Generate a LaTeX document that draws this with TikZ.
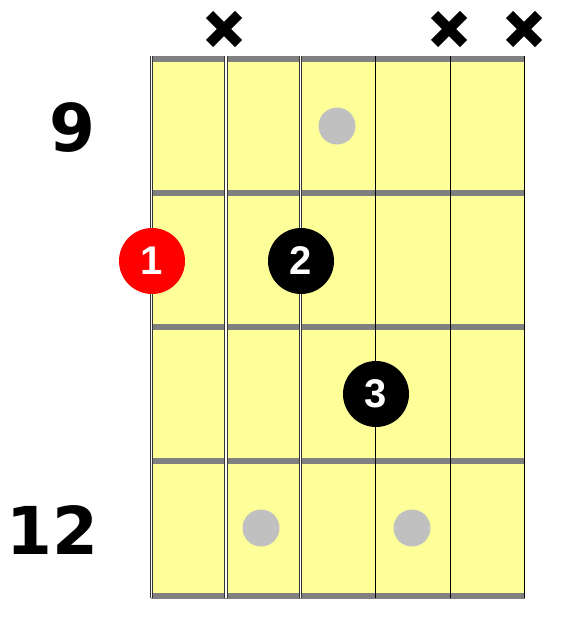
\documentclass[tikz,border=0pt]{standalone}
\usepackage{fontspec}
\newfontfamily\fretfont{DejaVu Sans}
\newfontfamily\fingfont{Liberation Sans}
\definecolor{board}{HTML}{FFFF99}
\definecolor{fretgray}{HTML}{808080}
\definecolor{dotgray}{HTML}{C0C0C0}
\definecolor{strdark}{HTML}{333333}
\tikzset{
  dotmark/.style={circle, fill=dotgray, inner sep=0pt, minimum size=37pt},
  finger/.style={circle, fill=black, inner sep=0pt, minimum size=66pt, text=white,
    font=\fingfont\bfseries\fontsize{40}{44}\selectfont},
  fretnum/.style={inner sep=0pt, font=\fretfont\bfseries\fontsize{66}{70}\selectfont},
  xmark/.style={line width=10pt, line cap=butt},
  fretbar/.style={fill=fretgray},
  thickstring/.style={line width=3.5pt, draw=strdark},
  thickcore/.style={line width=1.5pt, draw=white},
  thinstring/.style={line width=1.3pt, draw=black}
}
\begin{document}
\begin{tikzpicture}[x=1pt,y=-1pt]
\useasboundingbox (0,0) rectangle (571,621);
\fill[board] (150,56) rectangle (525,598);
\foreach \y in {59,193,327,461,595.5}
  \fill[fretbar] (151,\y-3) rectangle (525,\y+3);
\foreach \x in {151.3,226,300.5}{
  \draw[thickstring] (\x,56) -- (\x,598);
  \draw[thickcore] (\x,56) -- (\x,598);
}
\foreach \x in {375.5,450.5,524.5}
  \draw[thinstring] (\x,56) -- (\x,598);
% inlay dots
\node[dotmark] (d1) at (337,126) {};
\node[dotmark] (d2) at (261,528) {};
\node[dotmark] (d3) at (412,528) {};
% fingers
\node[finger, fill=red] (f1) at (152,261) {1};
\node[finger] (f2) at (301,261) {2};
\node[finger] (f3) at (376,394) {3};
% fret numbers
\node[fretnum] (n9) at (72.5,128) {9};
\node[fretnum] (n12) at (52,530) {12};
% muted strings
\foreach \n/\x in {a/224,b/449,c/524}{
  \coordinate (x\n) at (\x,29);
  \draw[xmark] ([shift={(-14.5,-14.5)}]x\n) -- ([shift={(14.5,14.5)}]x\n);
  \draw[xmark] ([shift={(-14.5,14.5)}]x\n) -- ([shift={(14.5,-14.5)}]x\n);
}
\end{tikzpicture}
\end{document}
